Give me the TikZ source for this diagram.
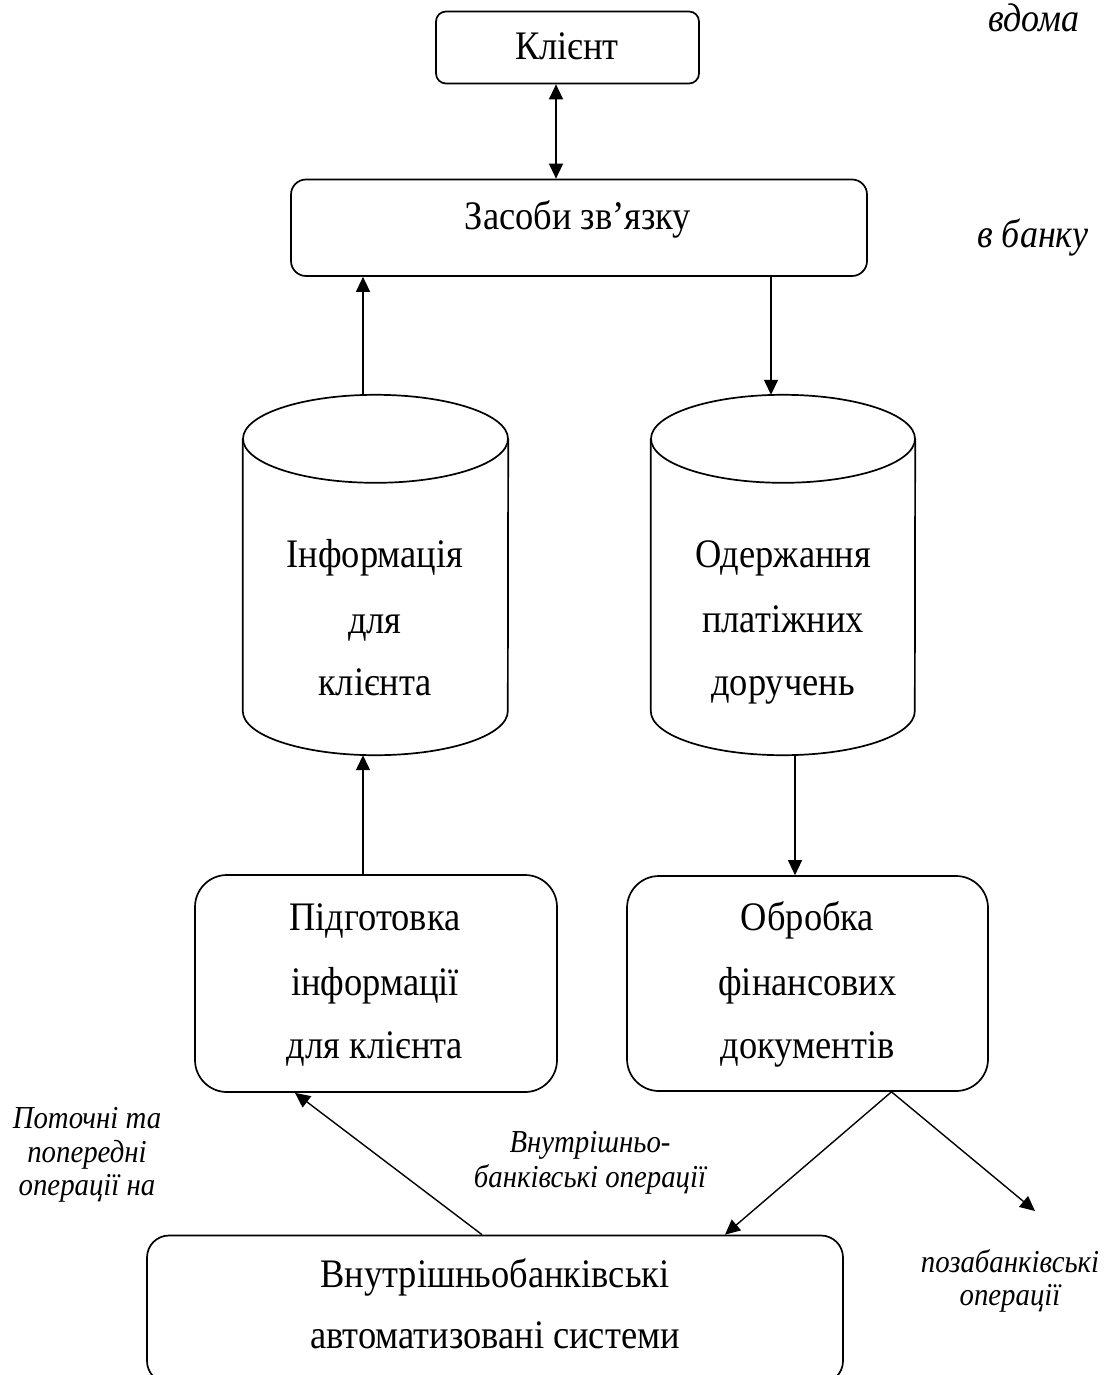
\documentclass[tikz,border=0pt]{standalone}
\usepackage{fontspec}
\setmainfont{Liberation Serif}
\newfontfamily\tallserif[FakeStretch=0.9]{Liberation Serif}
\usetikzlibrary{arrows.meta}
\tikzset{
  box/.style={draw, line width=1.7pt, rounded corners=#1, inner sep=0pt},
  cylbody/.style={inner sep=0pt},
  cylline/.style={line width=1.7pt},
  lbl/.style={anchor=base, inner sep=0pt, font=\tallserif\fontsize{40.5}{44}\selectfont},
  note/.style={anchor=base, inner sep=0pt, font=\tallserif\fontsize{32}{36}\selectfont\itshape},
  bignote/.style={anchor=base, inner sep=0pt, font=\tallserif\fontsize{40}{44}\selectfont\itshape},
  conn/.style={line width=1.4pt, -{Triangle[length=15pt,width=14pt]}},
  dconn/.style={line width=1.4pt, {Triangle[length=15pt,width=14pt]}-{Triangle[length=15pt,width=14pt]}},
}
\begin{document}
\begin{tikzpicture}[x=1pt,y=-1pt]
\useasboundingbox (0,0) rectangle (1111,1375);

% boxes
\node[box=10pt, minimum width=263pt, minimum height=72pt] (client) at (567.5,47.5) {};
\node[box=15pt, minimum width=576pt, minimum height=96.5pt] (means) at (579,227.75) {};
\node[box=32pt, minimum width=362pt, minimum height=217pt] (prep) at (376,983.5) {};
\node[box=32pt, minimum width=361pt, minimum height=215pt] (proc) at (807.5,983.5) {};
\node[box=22pt, minimum width=696pt, minimum height=147.5pt] (inner) at (495,1309.25) {};

% cylinders
\node[cylbody, minimum width=265pt, minimum height=360pt] (info) at (375.5,575) {};
\node[cylbody, minimum width=264pt, minimum height=360pt] (recv) at (783,575) {};
\foreach \c/\r in {info/132.5, recv/132} {
  \draw[cylline] ([yshift=-44pt]\c.north west) -- ([yshift=44pt]\c.south west)
     arc[start angle=180, end angle=360, x radius=\r pt, y radius=44pt]
     -- ([yshift=-44pt]\c.north east);
  \draw[cylline] ([yshift=-44pt]\c.north) ellipse[x radius=\r pt, y radius=44pt];
}

% texts in boxes
\node[lbl] (tclient) at (567,60) {Клієнт};
\node[lbl] (tmeans) at (578,229) {Засоби зв’язку};
\node[lbl] (tinfo1) at (375,567) {Інформація};
\node[lbl] (tinfo2) at (375,633) {для};
\node[lbl] (tinfo3) at (375,695) {клієнта};
\node[lbl] (trecv1) at (783,567) {Одержання};
\node[lbl] (trecv2) at (783,632) {платіжних};
\node[lbl] (trecv3) at (783,695) {доручень};
\node[lbl] (tprep1) at (375,930) {Підготовка};
\node[lbl] (tprep2) at (375,995) {інформації};
\node[lbl] (tprep3) at (375,1058) {для клієнта};
\node[lbl] (tproc1) at (807.5,930) {Обробка};
\node[lbl] (tproc2) at (807.5,995) {фінансових};
\node[lbl] (tproc3) at (807.5,1058) {документів};
\node[lbl] (tinner1) at (495,1287) {Внутрішньобанківські};
\node[lbl] (tinner2) at (495,1348) {автоматизовані системи};

% italic notes
\node[bignote] (nhome) at (1034,31.5) {вдома};
\node[bignote] (nbank) at (1033,247) {в банку};
\node[note] (ncur1) at (87,1128) {Поточні та};
\node[note] (ncur2) at (87,1162) {попередні};
\node[note] (ncur3) at (87,1195) {операції на};
\node[note] (nin1) at (590,1152) {Внутрішньо-};
\node[note] (nin2) at (590,1187) {банківські операції};
\node[note] (nout1) at (1010,1272) {позабанківські};
\node[note] (nout2) at (1010,1305) {операції};

% connectors
\coordinate (ext) at (1035,1211);
\draw[dconn] ([xshift=-11.5pt]client.south) -- ([xshift=-23pt]means.north);
\draw[conn] ([xshift=-12.5pt]info.north) -- ([xshift=-216pt]means.south);
\draw[conn] ([xshift=192pt]means.south) -- ([xshift=-12pt]recv.north);
\draw[conn] ([xshift=-13pt]prep.north) -- ([xshift=-12.5pt]info.south);
\draw[conn] ([xshift=12pt]recv.south) -- ([xshift=-12.5pt]proc.north);
\draw[conn] ([xshift=-13pt]inner.north) -- ([xshift=-81pt]prep.south);
\draw[conn] ([xshift=84pt]proc.south) -- ([xshift=230pt]inner.north);
\draw[conn] ([xshift=84pt]proc.south) -- (ext);
\end{tikzpicture}
\end{document}
